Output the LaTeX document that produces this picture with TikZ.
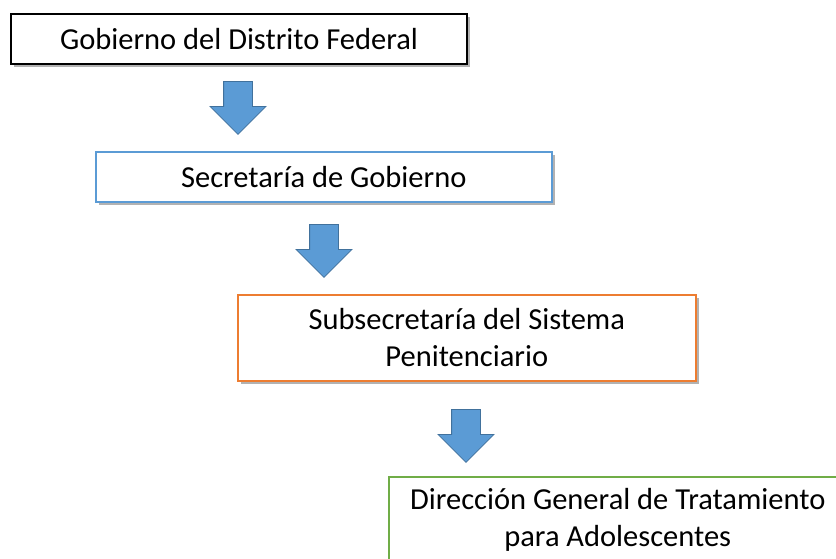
\documentclass[tikz,border=0pt]{standalone}
\usepackage{fontspec}
\setmainfont{Carlito}
\usepackage{xcolor}
\usepackage{tikz}
\usetikzlibrary{shapes,arrows,positioning,shadows}

\definecolor{arrowblue}{HTML}{5B9BD5}
\definecolor{arrowedge}{HTML}{41719C}
\definecolor{boxblue}{HTML}{5B9BD5}
\definecolor{boxorange}{HTML}{ED7D31}
\definecolor{boxgreen}{HTML}{70AD47}

\begin{document}
\begin{tikzpicture}[
    x=1pt, y=-1pt,
    level/.style={rectangle, draw, fill=white, line width=1.5pt, anchor=north west, minimum width=456pt, minimum height=50pt, inner sep=2pt, align=center, font=\fontsize{30.5}{36.6}\selectfont, drop shadow={shadow xshift=3pt, shadow yshift=-3pt, fill=black, opacity=0.3}},
    twoline/.style={minimum width=458pt, minimum height=86pt},
    downarrow/.style={single arrow, draw=arrowedge, fill=arrowblue, line width=0.8pt, shape border rotate=270, inner sep=14pt, minimum width=55pt, minimum height=53pt, single arrow head extend=13.5pt, single arrow tip angle=90, anchor=tail}
]
\useasboundingbox (0,0) rectangle (836,558);
\clip (0,0) rectangle (836,558);

\node[level, draw=black, line width=2pt] (gdf) at (10,13) {Gobierno del Distrito Federal};
\node[level, draw=boxblue] (secgob) at (95,151) {Secretaría de Gobierno};
\node[level, twoline, draw=boxorange] (subsec) at (237,294) {Subsecretaría del Sistema\\Penitenciario};
\node[level, twoline, draw=boxgreen] (dgta) at (388,476) {Dirección General de Tratamiento\\para Adolescentes};

\node[downarrow] (a1) at (238,81) {};
\node[downarrow] (a2) at (324,224) {};
\node[downarrow] (a3) at (466,409) {};

\end{tikzpicture}
\end{document}
